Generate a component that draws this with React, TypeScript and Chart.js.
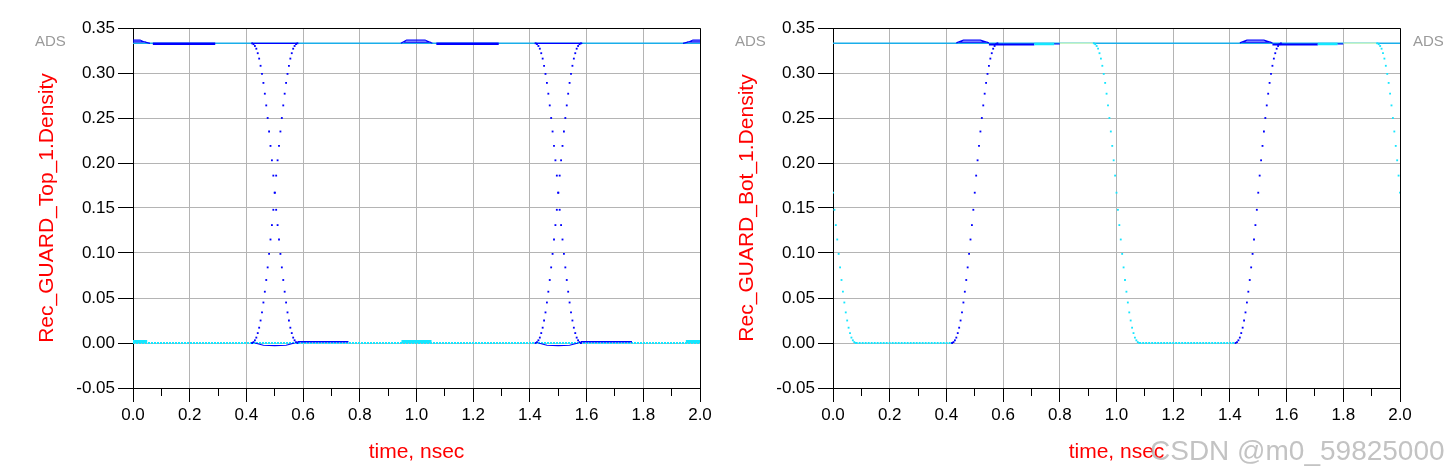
import React, { useEffect, useRef } from "react";
import { Chart, registerables } from "chart.js";

Chart.register(...registerables);

const FONT = "'Liberation Sans', Arial, sans-serif";

// ---- axes ----
const X_TICKS = [0, 0.2, 0.4, 0.6, 0.8, 1.0, 1.2, 1.4, 1.6, 1.8, 2.0];
const X_MINOR_TICKS = [0.1, 0.3, 0.5, 0.7, 0.9, 1.1, 1.3, 1.5, 1.7, 1.9];
const Y_TICKS = [-0.05, 0.0, 0.05, 0.1, 0.15, 0.2, 0.25, 0.3, 0.35];
const X_TITLE = "time, nsec";
const TOP_Y_TITLE = "Rec_GUARD_Top_1.Density";
const BOT_Y_TITLE = "Rec_GUARD_Bot_1.Density";

// ---- sampled edges (ns step between samples) ----
const EDGE_STEP = 0.005;
const FALL_EDGE = [
  0.333, 0.332, 0.33, 0.327, 0.322, 0.316, 0.308, 0.299, 0.289, 0.277, 0.264,
  0.25, 0.235, 0.219, 0.203, 0.186, 0.167, 0.148, 0.131, 0.115, 0.099, 0.084,
  0.07, 0.057, 0.045, 0.034, 0.025, 0.017, 0.011, 0.006, 0.003, 0.001, 0.0,
];
const RISE_EDGE = [
  0.0, 0.001, 0.003, 0.006, 0.011, 0.017, 0.025, 0.034, 0.045, 0.057, 0.07,
  0.084, 0.099, 0.115, 0.131, 0.148, 0.167, 0.186, 0.203, 0.219, 0.235, 0.25,
  0.264, 0.277, 0.289, 0.299, 0.308, 0.316, 0.322, 0.327, 0.33, 0.332, 0.333,
];

const HIGH_LEVEL = 0.333;
const LOW_LEVEL = 0.0;
const FULL_RANGE = [[0, 2]];

// ---- Top panel ----
const TOP_FALL_STARTS = [0.42, 1.42];
const TOP_RISE_STARTS = [0.42, 1.42];
const TOP_HIGH_THICK = [[0.07, 0.29], [1.07, 1.29]];
const TOP_HIGH_THICK_LEVEL = 0.3325;
const TOP_HIGH_THIN = [[0.42, 0.58], [1.42, 1.585]];
const TOP_HUMPS = [
  [[0.0, 0.3366], [0.025, 0.3366], [0.04, 0.3345], [0.06, 0.333]],
  [[0.0, 0.3345], [0.045, 0.3345]],
  [[0.945, 0.333], [0.965, 0.3366], [1.03, 0.3366], [1.056, 0.333]],
  [[0.955, 0.3343], [1.05, 0.3343]],
  [[1.94, 0.333], [1.96, 0.3345], [1.975, 0.3366], [2.0, 0.3366]],
  [[1.955, 0.3345], [2.0, 0.3345]],
];
const TOP_LOW_DIPS = [
  [[0.43, 0.0], [0.46, -0.0025], [0.5, -0.003], [0.54, -0.0025], [0.57, 0.0]],
  [[1.43, 0.0], [1.46, -0.0025], [1.5, -0.003], [1.54, -0.0025], [1.57, 0.0]],
];
const TOP_LOW_SHELF = [[0.58, 0.76], [1.58, 1.76]];
const TOP_LOW_SHELF_LEVEL = 0.0013;
const TOP_LOW_BUMPS = [[0.0, 0.05], [0.947, 1.053], [1.95, 2.0]];
const TOP_LOW_BUMP_LEVEL = 0.0016;

// ---- Bottom (Bot) panel ----
const BOT_FALL_STARTS = [-0.08, 0.92, 1.92];
const BOT_RISE_STARTS = [0.42, 1.42];
const BOT_HIGH_PALE = [[0.8, 0.917], [1.8, 1.917]];
const BOT_HIGH_BLUE_THICK = [[0.55, 0.71], [1.55, 1.71]];
const BOT_HIGH_BLUE_THICK_LEVEL = 0.3318;
const BOT_HIGH_CYAN = [[0.71, 0.78], [1.71, 1.78]];
const BOT_HIGH_CYAN_LEVEL = 0.3323;
const BOT_HIGH_BLUE_THIN = [[0.78, 0.8], [1.78, 1.8]];
const BOT_HIGH_BLUE_THIN_LEVEL = 0.3322;
const BOT_HUMPS = [
  [[0.435, 0.3335], [0.46, 0.3365], [0.52, 0.3365], [0.55, 0.3335]],
  [[0.445, 0.3342], [0.545, 0.3342]],
  [[1.435, 0.3335], [1.46, 0.3365], [1.52, 0.3365], [1.55, 0.3335]],
  [[1.445, 0.3342], [1.545, 0.3342]],
];
const BOT_LOW_DOTTED = [[0.08, 0.42], [1.08, 1.42]];

// ---- colours ----
const BLUE = "#0000ff";
const LIGHT_BLUE = "#1aaeea";
const CYAN = "#14e6ff";
const PALE_GREEN = "#c6f5c6";
const GRID = "#b4b4b4";

type Pt = { x: number; y: number | null };

function edgePoints(starts: number[], values: number[]): Pt[] {
  const pts: Pt[] = [];
  starts.forEach((s) =>
    values.forEach((v, i) => pts.push({ x: +(s + i * EDGE_STEP).toFixed(4), y: v }))
  );
  return pts;
}
function segPoints(ranges: number[][], level: number): Pt[] {
  const pts: Pt[] = [];
  ranges.forEach(([a, b]) => {
    pts.push({ x: a, y: level }, { x: b, y: level }, { x: b, y: null });
  });
  return pts;
}
function polyPoints(polys: number[][][]): Pt[] {
  const pts: Pt[] = [];
  polys.forEach((poly) => {
    poly.forEach(([x, y]) => pts.push({ x, y }));
    pts.push({ x: poly[poly.length - 1][0], y: null });
  });
  return pts;
}

const line = (data: Pt[], color: string, width: number, dash: number[] = []) => ({
  data,
  showLine: true,
  borderColor: color,
  backgroundColor: color,
  borderWidth: width,
  borderDash: dash,
  pointRadius: 0,
  spanGaps: false,
  fill: false,
  tension: 0,
});
const dots = (data: Pt[], color: string, r: number) => ({
  data,
  showLine: false,
  pointRadius: r,
  pointStyle: "rect",
  pointBackgroundColor: color,
  pointBorderColor: color,
  pointBorderWidth: 0,
});

function ordered(list: any[]) {
  return list.map((d, i) => ({ ...d, order: -i }));
}

const topDatasets = () =>
  ordered([
    line(segPoints(FULL_RANGE, HIGH_LEVEL), LIGHT_BLUE, 1.5),
    line(segPoints(FULL_RANGE, LOW_LEVEL), CYAN, 2, [2, 1]),
    line(segPoints(TOP_HIGH_THICK, TOP_HIGH_THICK_LEVEL), BLUE, 2.5),
    line(segPoints(TOP_HIGH_THIN, HIGH_LEVEL), BLUE, 1.2),
    line(polyPoints(TOP_HUMPS), BLUE, 1.2),
    line(segPoints(TOP_LOW_BUMPS, TOP_LOW_BUMP_LEVEL), CYAN, 3),
    line(polyPoints(TOP_LOW_DIPS), BLUE, 1.2),
    line(segPoints(TOP_LOW_SHELF, TOP_LOW_SHELF_LEVEL), BLUE, 1.5),
    dots(edgePoints(TOP_FALL_STARTS, FALL_EDGE), BLUE, 1.3),
    dots(edgePoints(TOP_RISE_STARTS, RISE_EDGE), BLUE, 1.3),
  ]);

const botDatasets = () =>
  ordered([
    line(segPoints(FULL_RANGE, HIGH_LEVEL), LIGHT_BLUE, 1.5),
    line(segPoints(BOT_HIGH_PALE, HIGH_LEVEL), PALE_GREEN, 1.5),
    line(segPoints(BOT_LOW_DOTTED, LOW_LEVEL), CYAN, 2, [2, 1]),
    line(segPoints(BOT_HIGH_BLUE_THICK, BOT_HIGH_BLUE_THICK_LEVEL), BLUE, 2),
    line(segPoints(BOT_HIGH_CYAN, BOT_HIGH_CYAN_LEVEL), CYAN, 2.5),
    line(segPoints(BOT_HIGH_BLUE_THIN, BOT_HIGH_BLUE_THIN_LEVEL), BLUE, 1.2),
    line(polyPoints(BOT_HUMPS), BLUE, 1.2),
    dots(edgePoints(BOT_FALL_STARTS, FALL_EDGE), CYAN, 1.3),
    dots(edgePoints(BOT_RISE_STARTS, RISE_EDGE), BLUE, 1.3),
  ]);

const al = (p: number) => Math.round(p - 0.5) + 0.5;

const framePlugin = {
  id: "frame",
  afterDatasetsDraw(chart: any) {
    const { ctx, chartArea: a } = chart;
    const xs = chart.scales.x;
    ctx.save();
    ctx.strokeStyle = "#000";
    ctx.lineWidth = 1;
    ctx.beginPath();
    ctx.moveTo(al(a.left), al(a.top));
    ctx.lineTo(al(a.right), al(a.top));
    ctx.lineTo(al(a.right), al(a.bottom));
    ctx.stroke();
    ctx.beginPath();
    X_MINOR_TICKS.forEach((v) => {
      const px = al(xs.getPixelForValue(v));
      ctx.moveTo(px, a.bottom);
      ctx.lineTo(px, a.bottom + 8);
    });
    ctx.stroke();
    ctx.restore();
  },
};

function makeOptions(yTitle: string, yAxisWidth: number, titlePad: number, rightPad: number) {
  return {
    animation: false,
    responsive: false,
    maintainAspectRatio: false,
    events: [],
    layout: { padding: { top: 28, right: rightPad, left: 0, bottom: 0 } },
    plugins: { legend: { display: false }, tooltip: { enabled: false }, title: { display: false } },
    scales: {
      x: {
        type: "linear",
        min: 0,
        max: 2,
        afterBuildTicks: (s: any) => {
          s.ticks = X_TICKS.map((v) => ({ value: v }));
        },
        afterFit: (s: any) => {
          s.height = 81;
        },
        ticks: {
          callback: (v: any) => Number(v).toFixed(1),
          font: { family: FONT, size: 17 },
          color: "#000",
          padding: 3,
          maxRotation: 0,
          autoSkip: false,
        },
        grid: { color: GRID, lineWidth: 1, tickLength: 14, tickColor: "#000", drawTicks: true },
        border: { display: true, color: "#000", width: 1 },
        title: {
          display: true,
          text: X_TITLE,
          color: "#ff0000",
          font: { family: FONT, size: 21 },
          padding: { top: 0, bottom: 4 },
        },
      },
      y: {
        type: "linear",
        min: -0.05,
        max: 0.35,
        afterBuildTicks: (s: any) => {
          s.ticks = Y_TICKS.map((v) => ({ value: v }));
        },
        afterFit: (s: any) => {
          s.width = yAxisWidth;
        },
        ticks: {
          callback: (v: any) => Number(v).toFixed(2),
          font: { family: FONT, size: 17 },
          color: "#000",
          padding: 3,
        },
        grid: { color: GRID, lineWidth: 1, tickLength: 15, tickColor: "#000", drawTicks: true },
        border: { display: true, color: "#000", width: 1 },
        title: {
          display: true,
          text: yTitle,
          color: "#ff0000",
          font: { family: FONT, size: 21 },
          padding: { top: titlePad, bottom: 0 },
        },
      },
    },
  };
}

function Panel(props: {
  left: number;
  width: number;
  yAxisWidth: number;
  titlePad: number;
  rightPad: number;
  yTitle: string;
  datasets: () => any[];
}) {
  const ref = useRef<HTMLCanvasElement>(null);
  useEffect(() => {
    const chart = new Chart(ref.current as HTMLCanvasElement, {
      type: "scatter",
      data: { datasets: props.datasets() },
      options: makeOptions(props.yTitle, props.yAxisWidth, props.titlePad, props.rightPad) as any,
      plugins: [framePlugin],
    });
    return () => chart.destroy();
  }, []);
  return (
    <canvas
      ref={ref}
      width={props.width}
      height={469}
      style={{ position: "absolute", left: props.left, top: 0, width: props.width, height: 469 }}
    />
  );
}

const adsStyle = (left: number): React.CSSProperties => ({
  position: "absolute",
  left,
  top: 32,
  font: `15px ${FONT}`,
  lineHeight: "18px",
  color: "#9a9a9a",
  whiteSpace: "nowrap",
});

export default function App() {
  return (
    <div
      style={{
        position: "fixed",
        left: 0,
        top: 0,
        width: 1451,
        height: 469,
        background: "#fff",
        overflow: "hidden",
      }}
    >
      <Panel left={0} width={720} yAxisWidth={133} titlePad={35} rightPad={20} yTitle={TOP_Y_TITLE} datasets={topDatasets} />
      <Panel left={720} width={731} yAxisWidth={113} titlePad={15} rightPad={51} yTitle={BOT_Y_TITLE} datasets={botDatasets} />
      <div style={adsStyle(35)}>ADS</div>
      <div style={adsStyle(735)}>ADS</div>
      <div style={adsStyle(1413)}>ADS</div>
      <div
        style={{
          position: "absolute",
          left: 1150,
          top: 435,
          font: `28px ${FONT}`,
          lineHeight: "32px",
          color: "rgba(175,175,175,0.75)",
          whiteSpace: "nowrap",
        }}
      >
        CSDN @m0_59825000
      </div>
    </div>
  );
}
